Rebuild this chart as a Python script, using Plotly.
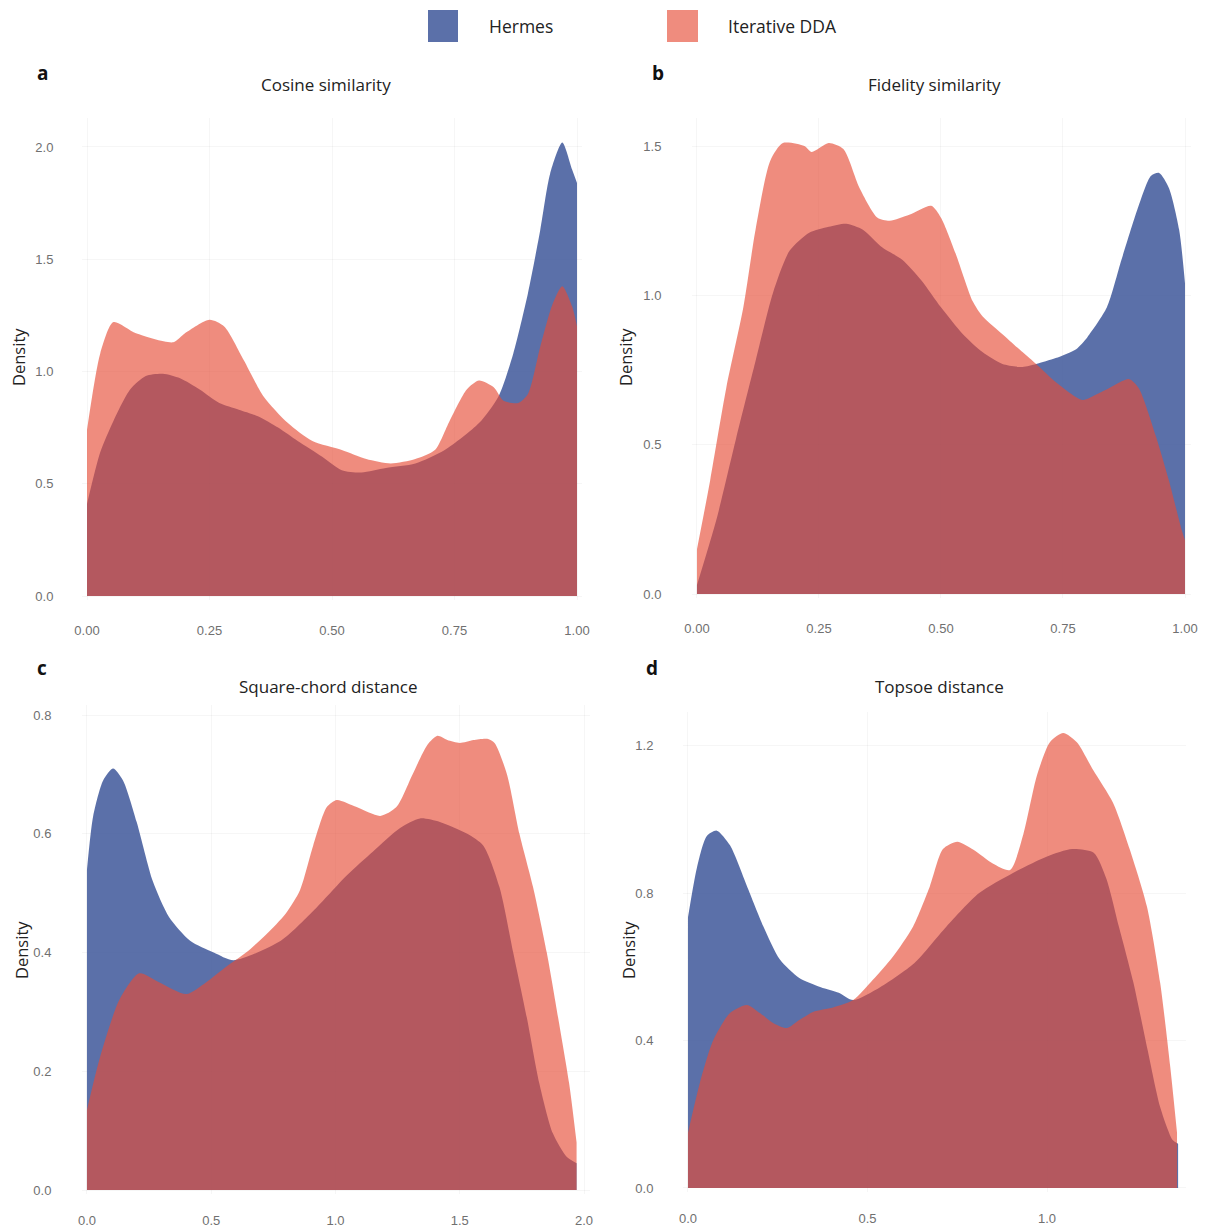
import plotly.graph_objects as go

# ---- density estimates per panel (x grid, density) ----
# a: Cosine similarity
cos_hermes_x = [0.0, 0.027, 0.054, 0.088, 0.12, 0.155, 0.19, 0.23, 0.27, 0.31, 0.35, 0.39, 0.43, 0.48, 0.52,
                0.56, 0.61, 0.67, 0.73, 0.80, 0.84, 0.87, 0.90, 0.925, 0.945, 0.97, 0.99, 1.0]
cos_hermes_y = [0.41, 0.64, 0.78, 0.92, 0.98, 0.99, 0.97, 0.92, 0.86, 0.83, 0.80, 0.75, 0.69, 0.62, 0.56,
                0.55, 0.57, 0.59, 0.65, 0.77, 0.89, 1.08, 1.35, 1.63, 1.88, 2.02, 1.90, 1.84]
cos_dda_x = [0.0, 0.027, 0.054, 0.10, 0.176, 0.20, 0.25, 0.28, 0.32, 0.36, 0.41, 0.46, 0.52, 0.57, 0.62, 0.67,
             0.71, 0.74, 0.775, 0.80, 0.83, 0.85, 0.88, 0.90, 0.925, 0.95, 0.97, 0.99, 1.0]
cos_dda_y = [0.74, 1.08, 1.22, 1.17, 1.13, 1.17, 1.23, 1.20, 1.05, 0.89, 0.77, 0.69, 0.65, 0.61, 0.59, 0.61,
             0.65, 0.78, 0.92, 0.96, 0.93, 0.87, 0.86, 0.90, 1.11, 1.30, 1.38, 1.29, 1.20]

# b: Fidelity similarity
fid_hermes_x = [0.0, 0.04, 0.08, 0.12, 0.156, 0.19, 0.23, 0.27, 0.306, 0.34, 0.38, 0.42, 0.46, 0.50, 0.545,
                0.585, 0.626, 0.667, 0.695, 0.735, 0.777, 0.80, 0.84, 0.87, 0.905, 0.93, 0.947, 0.967, 0.988, 1.0]
fid_hermes_y = [0.03, 0.25, 0.52, 0.78, 1.01, 1.15, 1.21, 1.23, 1.24, 1.22, 1.16, 1.12, 1.05, 0.96, 0.87,
                0.81, 0.77, 0.76, 0.77, 0.79, 0.82, 0.86, 0.96, 1.12, 1.30, 1.40, 1.41, 1.36, 1.22, 1.04]
fid_dda_x = [0.0, 0.027, 0.06, 0.095, 0.12, 0.15, 0.176, 0.22, 0.235, 0.27, 0.30, 0.333, 0.37, 0.395, 0.435,
             0.48, 0.50, 0.53, 0.565, 0.585, 0.626, 0.667, 0.695, 0.735, 0.79, 0.82, 0.845, 0.885, 0.905,
             0.94, 0.967, 0.994, 1.0]
fid_dda_y = [0.15, 0.38, 0.69, 0.96, 1.22, 1.45, 1.51, 1.50, 1.48, 1.51, 1.49, 1.36, 1.26, 1.25, 1.27,
             1.30, 1.26, 1.14, 0.98, 0.93, 0.87, 0.81, 0.77, 0.71, 0.65, 0.67, 0.69, 0.72, 0.69,
             0.53, 0.38, 0.21, 0.18]

# c: Square-chord distance
sqc_hermes_x = [0.0, 0.025, 0.065, 0.105, 0.145, 0.20, 0.265, 0.33, 0.415, 0.51, 0.59, 0.78, 0.91, 1.045,
                1.15, 1.26, 1.34, 1.42, 1.53, 1.595, 1.66, 1.715, 1.77, 1.82, 1.875, 1.93, 1.97]
sqc_hermes_y = [0.54, 0.63, 0.69, 0.71, 0.69, 0.62, 0.52, 0.46, 0.42, 0.40, 0.387, 0.42, 0.47, 0.53,
                0.57, 0.61, 0.626, 0.62, 0.60, 0.58, 0.51, 0.40, 0.29, 0.18, 0.095, 0.056, 0.045]
sqc_dda_x = [0.0, 0.05, 0.13, 0.21, 0.29, 0.40, 0.48, 0.56, 0.64, 0.72, 0.80, 0.857, 0.91, 0.965, 1.005,
             1.085, 1.18, 1.245, 1.31, 1.37, 1.41, 1.45, 1.50, 1.555, 1.61, 1.64, 1.69, 1.74, 1.795,
             1.85, 1.90, 1.94, 1.97]
sqc_dda_y = [0.135, 0.22, 0.32, 0.365, 0.35, 0.33, 0.35, 0.376, 0.40, 0.43, 0.466, 0.505, 0.58, 0.645, 0.657,
             0.645, 0.63, 0.645, 0.70, 0.75, 0.765, 0.758, 0.753, 0.758, 0.76, 0.753, 0.70, 0.60, 0.51,
             0.40, 0.28, 0.18, 0.08]

# d: Topsoe distance
top_hermes_x = [0.0, 0.025, 0.052, 0.08, 0.117, 0.164, 0.21, 0.256, 0.31, 0.37, 0.42, 0.46, 0.535, 0.63,
                0.72, 0.81, 0.905, 1.0, 1.07, 1.13, 1.165, 1.20, 1.24, 1.28, 1.315, 1.35, 1.365]
top_hermes_y = [0.735, 0.87, 0.955, 0.97, 0.93, 0.82, 0.71, 0.62, 0.57, 0.545, 0.53, 0.51, 0.545, 0.61,
                0.71, 0.80, 0.855, 0.90, 0.92, 0.91, 0.84, 0.71, 0.56, 0.375, 0.22, 0.13, 0.12]
top_dda_x = [0.0, 0.033, 0.07, 0.117, 0.164, 0.20, 0.237, 0.275, 0.31, 0.348, 0.404, 0.46, 0.515, 0.57,
             0.627, 0.674, 0.71, 0.75, 0.795, 0.85, 0.897, 0.934, 0.972, 1.008, 1.045, 1.083, 1.128,
             1.184, 1.23, 1.278, 1.315, 1.343, 1.362]
top_dda_y = [0.15, 0.285, 0.40, 0.475, 0.497, 0.475, 0.448, 0.434, 0.456, 0.478, 0.49, 0.51, 0.565, 0.627,
             0.71, 0.82, 0.92, 0.94, 0.918, 0.88, 0.863, 0.96, 1.12, 1.21, 1.235, 1.21, 1.135,
             1.045, 0.92, 0.765, 0.557, 0.33, 0.15]

series_names = ["Hermes", "Iterative DDA"]
panel_titles = ["Cosine similarity", "Fidelity similarity", "Square-chord distance", "Topsoe distance"]
panel_letters = ["a", "b", "c", "d"]

x_tickvals = [[0, 0.25, 0.5, 0.75, 1.0], [0, 0.25, 0.5, 0.75, 1.0], [0, 0.5, 1.0, 1.5, 2.0], [0, 0.5, 1.0]]
x_ticktext = [["0.00", "0.25", "0.50", "0.75", "1.00"], ["0.00", "0.25", "0.50", "0.75", "1.00"],
              ["0.0", "0.5", "1.0", "1.5", "2.0"], ["0.0", "0.5", "1.0"]]
y_tickvals = [[0, 0.5, 1.0, 1.5, 2.0], [0, 0.5, 1.0, 1.5], [0, 0.2, 0.4, 0.6, 0.8], [0, 0.4, 0.8, 1.2]]

panels = [
    (cos_hermes_x, cos_hermes_y, cos_dda_x, cos_dda_y),
    (fid_hermes_x, fid_hermes_y, fid_dda_x, fid_dda_y),
    (sqc_hermes_x, sqc_hermes_y, sqc_dda_x, sqc_dda_y),
    (top_hermes_x, top_hermes_y, top_dda_x, top_dda_y),
]

W, H = 1207, 1230
HERMES_FILL = "rgba(55,80,150,0.82)"
DDA_FILL = "rgba(230,75,53,0.64)"
fills = [HERMES_FILL, DDA_FILL]
GRID = "rgba(0,0,0,0.035)"
TICK_FONT = dict(family="Liberation Sans, Arial, sans-serif", size=13, color="#707070")
TEXT_FONT = "Open Sans, sans-serif"

# plot areas in pixels: (left, right, top, bottom) and axis ranges
boxes = [(82, 582, 118, 600), (692, 1191, 118, 598), (82, 590, 705, 1194), (683, 1186, 712, 1192)]
x_ranges = [[-0.0102, 1.0102], [-0.0102, 1.0123], [-0.020, 2.024], [-0.0139, 1.387]]
y_ranges = [[-0.0178, 2.129], [-0.0134, 1.594], [-0.0067, 0.817], [-0.0109, 1.292]]
y_ticklen = [25, 27, 27, 26]

fig = go.Figure()
layout = {}
for i, (hx, hy, dx, dy) in enumerate(panels):
    sfx = "" if i == 0 else str(i + 1)
    for name, xs, ys, fc in [(series_names[0], hx, hy, fills[0]), (series_names[1], dx, dy, fills[1])]:
        fig.add_trace(go.Scatter(
            x=xs, y=ys, name=name, mode="lines", fill="tozeroy", fillcolor=fc,
            line=dict(width=0, shape="spline", smoothing=0.7, color=fc),
            xaxis="x" + sfx, yaxis="y" + sfx, showlegend=False, hoverinfo="skip",
        ))
    l, r, t, b = boxes[i]
    layout["xaxis" + sfx] = dict(
        domain=[l / W, r / W], range=x_ranges[i], anchor="y" + sfx,
        tickvals=x_tickvals[i], ticktext=x_ticktext[i],
        showgrid=True, gridcolor=GRID, gridwidth=1, zeroline=False, showline=False,
        ticks="outside", ticklen=18 if i < 2 else 14, tickcolor="rgba(0,0,0,0)",
        tickfont=TICK_FONT, automargin=False, fixedrange=True,
    )
    layout["yaxis" + sfx] = dict(
        domain=[1 - b / H, 1 - t / H], range=y_ranges[i], anchor="x" + sfx,
        tickvals=y_tickvals[i], tickformat=".1f",
        showgrid=True, gridcolor=GRID, gridwidth=1, zeroline=False, showline=False,
        ticks="outside", ticklen=y_ticklen[i], tickcolor="rgba(0,0,0,0)",
        tickfont=TICK_FONT, automargin=False, fixedrange=True,
    )

annotations = []
title_pos = [(326, 85), (934, 85), (328, 686), (939, 686)]
letter_pos = [(42, 73), (658, 73), (42, 668), (652, 668)]
dens_pos = [(18, 357), (625, 357), (21, 950), (628, 950)]
for i in range(4):
    tx, ty = title_pos[i]
    annotations.append(dict(x=tx / W, y=1 - ty / H, xref="paper", yref="paper", text=panel_titles[i],
                            showarrow=False, xanchor="center", yanchor="middle",
                            font=dict(family=TEXT_FONT, size=17, color="#222222")))
    lx, ly = letter_pos[i]
    annotations.append(dict(x=lx / W, y=1 - ly / H, xref="paper", yref="paper", text="<b>%s</b>" % panel_letters[i],
                            showarrow=False, xanchor="center", yanchor="middle",
                            font=dict(family=TEXT_FONT, size=19, color="#111111")))
    dx_, dy_ = dens_pos[i]
    annotations.append(dict(x=dx_ / W, y=1 - dy_ / H, xref="paper", yref="paper", text="Density",
                            textangle=-90, showarrow=False, xanchor="center", yanchor="middle",
                            font=dict(family=TEXT_FONT, size=16.5, color="#222222")))

# legend keys drawn at the top
shapes = []
legend_keys = [(428, 458, series_names[0], 487), (667, 698, series_names[1], 726)]
for (x0, x1, label, tx), fc in zip(legend_keys, fills):
    shapes.append(dict(type="rect", xref="paper", yref="paper", x0=x0 / W, x1=x1 / W,
                       y0=1 - 42 / H, y1=1 - 10 / H, fillcolor=fc, line=dict(width=0)))
    annotations.append(dict(x=tx / W, y=1 - 26 / H, xref="paper", yref="paper", text=label,
                            showarrow=False, xanchor="left", yanchor="middle",
                            font=dict(family=TEXT_FONT, size=17.5, color="#222222")))

fig.update_layout(
    width=W, height=H, margin=dict(l=0, r=0, t=0, b=0, pad=0, autoexpand=False),
    paper_bgcolor="white", plot_bgcolor="white", showlegend=False,
    annotations=annotations, shapes=shapes, **layout,
)
fig.write_html("out.html")
